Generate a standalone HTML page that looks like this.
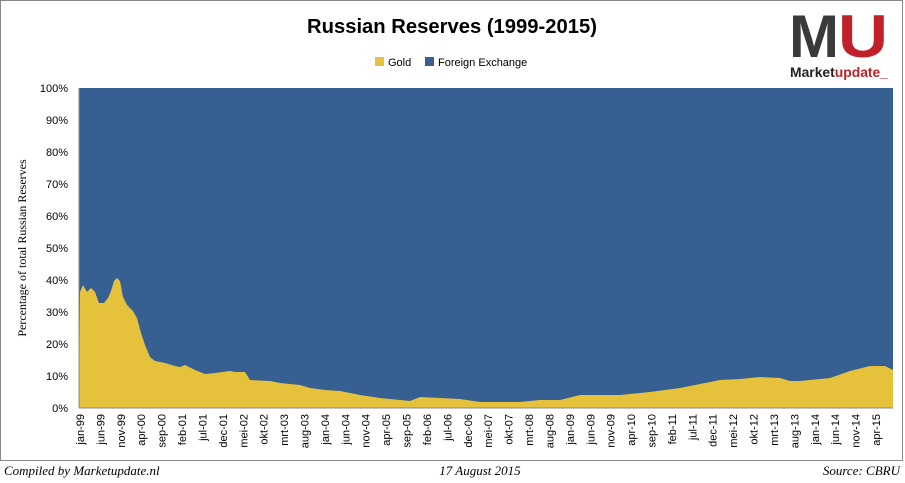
<!DOCTYPE html>
<html><head><meta charset="utf-8"><style>
body{margin:0;background:#fff;}
svg{display:block;font-family:"Liberation Sans",sans-serif;}
</style></head><body>
<svg width="905" height="483" viewBox="0 0 905 483">
<rect x="0.5" y="0.5" width="902" height="460" fill="#fff" stroke="#888"/>
<text x="452" y="33" font-size="20" font-weight="bold" text-anchor="middle" fill="#000" textLength="290" lengthAdjust="spacingAndGlyphs">Russian Reserves (1999-2015)</text>
<rect x="375" y="57" width="9" height="9" fill="#e6c13b"/>
<text x="388" y="66" font-size="11">Gold</text>
<rect x="425" y="57" width="9" height="9" fill="#366092"/>
<text x="438" y="66" font-size="11">Foreign Exchange</text>
<text x="789" y="57" font-size="60" font-weight="bold" fill="#3a3a3a" textLength="50" lengthAdjust="spacingAndGlyphs">M</text>
<text x="838" y="57" font-size="60" font-weight="bold" fill="#c0202a" textLength="50" lengthAdjust="spacingAndGlyphs">U</text>
<text x="790" y="77" font-size="14" font-weight="bold" fill="#222" textLength="98" lengthAdjust="spacingAndGlyphs">Market<tspan fill="#c0202a">update_</tspan></text>
<rect x="79" y="88" width="814" height="320" fill="#366092"/>
<path fill="#e6c13b" d="M79,408 L80,292 83,285 87,292 91,288 95,292 99,303 104,303 108,298 111,291 114,281 117,278 120,281 123,297 127,305 133,311 137,318 141,333 145,345 150,357 155,361 165,363 175,366 180,367 185,365 195,370 205,374 215,373 230,371 235,372 245,372 250,380 270,381 280,383 300,385 310,388 325,390 340,391 360,395 380,398 400,400 410,401 420,397 440,398 460,399 480,402 520,402 540,400 560,400 580,395 620,395 650,392 680,388 700,384 720,380 740,379 760,377 780,378 790,381 800,381 810,380 830,378 850,371 870,366 885,366 893,370 L893,408 Z"/>
<line x1="79" y1="88" x2="79" y2="408" stroke="#888"/>
<line x1="79" y1="408" x2="893" y2="408" stroke="#888"/>
<g font-size="11" text-anchor="end">
<text x="68" y="412">0%</text><text x="68" y="380">10%</text><text x="68" y="348">20%</text><text x="68" y="316">30%</text><text x="68" y="284">40%</text><text x="68" y="252">50%</text><text x="68" y="220">60%</text><text x="68" y="188">70%</text><text x="68" y="156">80%</text><text x="68" y="124">90%</text><text x="68" y="92">100%</text>
</g>
<text transform="translate(26,248) rotate(-90)" font-family="Liberation Serif,serif" font-size="12" text-anchor="middle">Percentage of total Russian Reserves</text>
<g font-size="11" text-anchor="end" id="xl"></g>
<text x="4" y="475" font-family="Liberation Serif,serif" font-style="italic" font-size="13">Compiled by Marketupdate.nl</text>
<text x="480" y="475" font-family="Liberation Serif,serif" font-style="italic" font-size="13" text-anchor="middle">17 August 2015</text>
<text x="900" y="475" font-family="Liberation Serif,serif" font-style="italic" font-size="13" text-anchor="end">Source: CBRU</text>
</svg>
<script>
var l="jan-99 jun-99 nov-99 apr-00 sep-00 feb-01 jul-01 dec-01 mei-02 okt-02 mrt-03 aug-03 jan-04 jun-04 nov-04 apr-05 sep-05 feb-06 jul-06 dec-06 mei-07 okt-07 mrt-08 aug-08 jan-09 jun-09 nov-09 apr-10 sep-10 feb-11 jul-11 dec-11 mei-12 okt-12 mrt-13 aug-13 jan-14 jun-14 nov-14 apr-15".split(" ");
var g=document.getElementById("xl"),s="";
l.forEach(function(t,i){var x=80+i*20.41+4;s+='<text transform="translate('+x.toFixed(1)+',414) rotate(-90)">'+t+'</text>';});
g.innerHTML=s;
</script>
</body></html>
